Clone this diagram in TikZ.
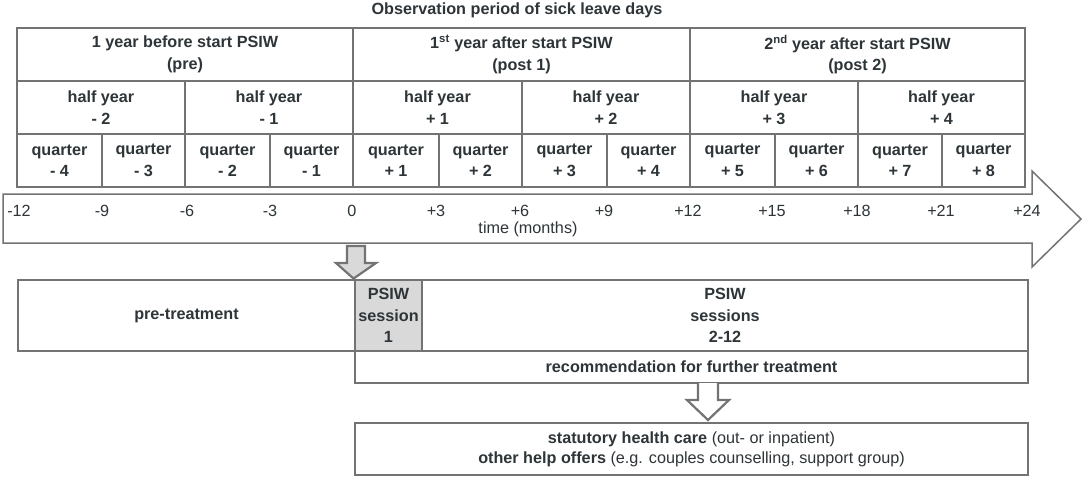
\documentclass[tikz,border=0pt]{standalone}
\usepackage{fontspec}
\setmainfont{Liberation Sans}
\definecolor{linegray}{HTML}{737373}
\definecolor{txt}{HTML}{2E3538}
\definecolor{boxfill}{HTML}{D9D9D9}
\newcommand{\mycell}[6]{%
  \node[cell, minimum width={(#4-#2)*1pt}, minimum height={(#5-#3)*1pt}] (#1)
    at ({(#2+#4)/2},{(#3+#5)/2}) {#6};}
\begin{document}
\begin{tikzpicture}[x=1pt,y=-1pt,
  every node/.style={font=\fontsize{16.2}{21.5}\selectfont, text=txt},
  cell/.style={draw=linegray, line width=2.9pt, fill=white, inner sep=0pt,
    font=\fontsize{16.2}{21.5}\selectfont\bfseries, align=center},
  lowbox/.style={cell},
  tick/.style={font=\fontsize{16.2}{19}\selectfont, inner sep=0pt},
  blockarrow/.style={draw=linegray, line width=2.2pt, line join=miter}
]
\useasboundingbox (0,0) rectangle (1084,479);

% title
\node[font=\fontsize{16.2}{19}\selectfont\bfseries] (title) at (517,10) {Observation period of sick leave days};

% timeline arrow
\draw[draw=linegray, line width=1.5pt, fill=white, line join=miter]
  (3,194) -- (1032,194) -- (1032,171) -- (1081,219) -- (1032,267) -- (1032,243) -- (3,243) -- cycle;

% years
\mycell{y1}{17}{28}{353}{81}{1 year before start PSIW\\(pre)}
\mycell{y2}{353}{28}{690}{81}{1\textsuperscript{st} year after start PSIW\\(post 1)}
\mycell{y3}{690}{28}{1025}{81}{2\textsuperscript{nd} year after start PSIW\\(post 2)}
% half years
\mycell{h1}{17}{81}{185}{134}{half year\\- 2}
\mycell{h2}{185}{81}{353}{134}{half year\\- 1}
\mycell{h3}{353}{81}{522}{134}{half year\\+ 1}
\mycell{h4}{522}{81}{690}{134}{half year\\+ 2}
\mycell{h5}{690}{81}{858}{134}{half year\\+ 3}
\mycell{h6}{858}{81}{1025}{134}{half year\\+ 4}
% quarters
\mycell{q1}{17}{134}{102}{187}{quarter\\- 4}
\mycell{q2}{102}{134}{185}{187}{quarter\\- 3}
\mycell{q3}{185}{134}{270}{187}{quarter\\- 2}
\mycell{q4}{270}{134}{353}{187}{quarter\\- 1}
\mycell{q5}{353}{134}{439}{187}{quarter\\+ 1}
\mycell{q6}{439}{134}{522}{187}{quarter\\+ 2}
\mycell{q7}{522}{134}{607}{187}{quarter\\+ 3}
\mycell{q8}{607}{134}{690}{187}{quarter\\+ 4}
\mycell{q9}{690}{134}{775}{187}{quarter\\+ 5}
\mycell{q10}{775}{134}{858}{187}{quarter\\+ 6}
\mycell{q11}{858}{134}{942}{187}{quarter\\+ 7}
\mycell{q12}{942}{134}{1025}{187}{quarter\\+ 8}

% tick labels
\node[tick] (t1) at (19,211) {-12};
\node[tick] (t2) at (102,211) {-9};
\node[tick] (t3) at (187,211) {-6};
\node[tick] (t4) at (270,211) {-3};
\node[tick] (t5) at (352,211) {0};
\node[tick] (t6) at (436,211) {+3};
\node[tick] (t7) at (520,211) {+6};
\node[tick] (t8) at (604,211) {+9};
\node[tick] (t9) at (688,211) {+12};
\node[tick] (t10) at (772,211) {+15};
\node[tick] (t11) at (857,211) {+18};
\node[tick] (t12) at (941,211) {+21};
\node[tick] (t13) at (1027,211) {+24};
\node[tick] (tlabel) at (528,229) {time (months)};

% lower boxes
\mycell{pre}{18}{280}{355}{351}{pre-treatment}
\node[lowbox, fill=boxfill, minimum width=67pt, minimum height=71pt] (s1) at (388.5,315.5) {PSIW\\session\\1};
\mycell{s2}{422}{280}{1028}{351}{PSIW\\sessions\\2-12}
\mycell{rec}{355}{351}{1028}{383}{recommendation for further treatment}
\node[lowbox, minimum width=673pt, minimum height=52pt, font=\fontsize{16.2}{20}\selectfont] (care) at (691.5,449)
  {\textbf{statutory health care} (out- or inpatient)\\\textbf{other help offers} (e.g. couples counselling, support group)};

% block arrows
\draw[blockarrow, fill=boxfill]
  (347,246) -- (365,246) -- (365,263) -- (376,263) -- (s1.north west) -- (336,263) -- (347,263) -- cycle;
\coordinate (a2tip) at (708,420);
\draw[blockarrow, fill=white]
  (698,383) -- (698,400) -- (687,400) -- (a2tip) -- (729,400) -- (718,400) -- (718,383);
\end{tikzpicture}
\end{document}
